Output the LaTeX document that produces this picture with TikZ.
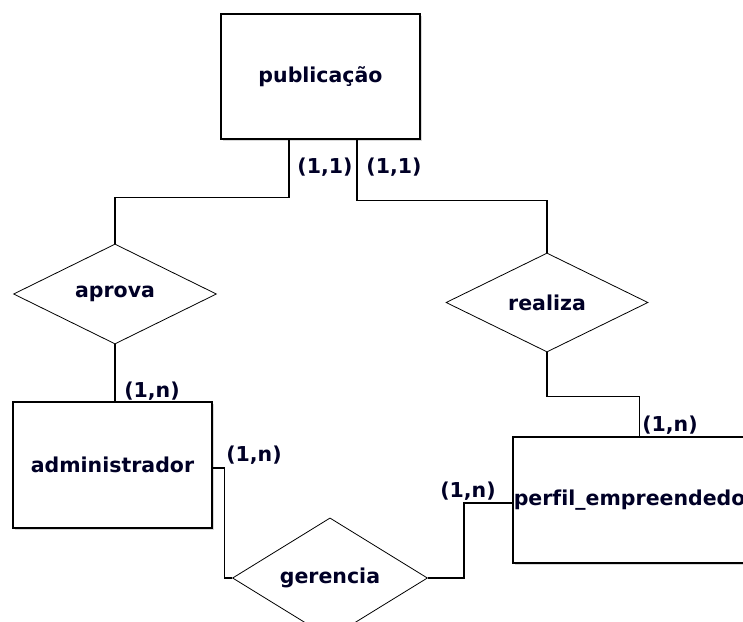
\documentclass[tikz,border=0pt]{standalone}
\usepackage{fontspec}
\setmainfont{DejaVu Sans}[Ligatures = NoCommon]
\usetikzlibrary{shapes.geometric, shadows}

\begin{document}
\begin{tikzpicture}[x = 1pt, y = -1pt,
  every node/.style = {font = \bfseries\fontsize{20.5}{24}\selectfont, text = black!85!blue},
  entity/.style = {draw, line width = 1.6pt, fill = white, inner sep = 0,
    drop shadow = {shadow xshift = 2pt, shadow yshift = -2pt, fill = gray!60}},
  relation/.style = {draw, diamond, line width = 0.8pt, fill = white, inner sep = 0},
  link/.style = {line width = 1.3pt},
  card/.style = {inner sep = 0}]
\useasboundingbox (0,0) rectangle (743,621);
\clip (0,0) rectangle (743,621);
% entities
\node[entity, minimum width = 199pt, minimum height = 125pt] (pub) at (320.5,76.5) {publicação};
\node[entity, minimum width = 199pt, minimum height = 126pt] (admin) at (112.5,465) {administrador};
\node[entity, text width = 244pt, align = left, inner xsep = 1pt, minimum height = 126pt, anchor = west] (perfil) at (512,500) {perfil\_empreendedor};
% relations
\node[relation, minimum width = 203pt, minimum height = 100pt] (aprova) at (115,294) {aprova};
\node[relation, minimum width = 202pt, minimum height = 99pt] (realiza) at (547,302.5) {realiza};
\node[relation, minimum width = 195pt, minimum height = 100pt] (gerencia) at (330,578) {gerencia};
% connectors
\draw [link] ([xshift = -31.5pt]pub.south) -- ++(0,58) -| (aprova.north);
\draw [link] ([xshift = 36.5pt]pub.south) -- ++(0,61) -| (realiza.north);
\draw [link] (aprova.south) -- (aprova.south |- admin.north);
\draw [link] (realiza.south) -- ++(0,44) -| ([xshift = 4pt]perfil.north);
\draw [link] ([yshift = -3pt]admin.east) -- ++(12,0) |- (gerencia.west);
\draw [link] (gerencia.east) -- ++(36,0) |- ([yshift = -3pt]perfil.west);
% cardinalities
\node[card] (c1) at (325,167) {(1,1)};
\node[card] (c2) at (394,167) {(1,1)};
\node[card] (c3) at (152,391) {(1,n)};
\node[card] (c4) at (670,425) {(1,n)};
\node[card] (c5) at (254,455) {(1,n)};
\node[card] (c6) at (468,491) {(1,n)};
\end{tikzpicture}
\end{document}
